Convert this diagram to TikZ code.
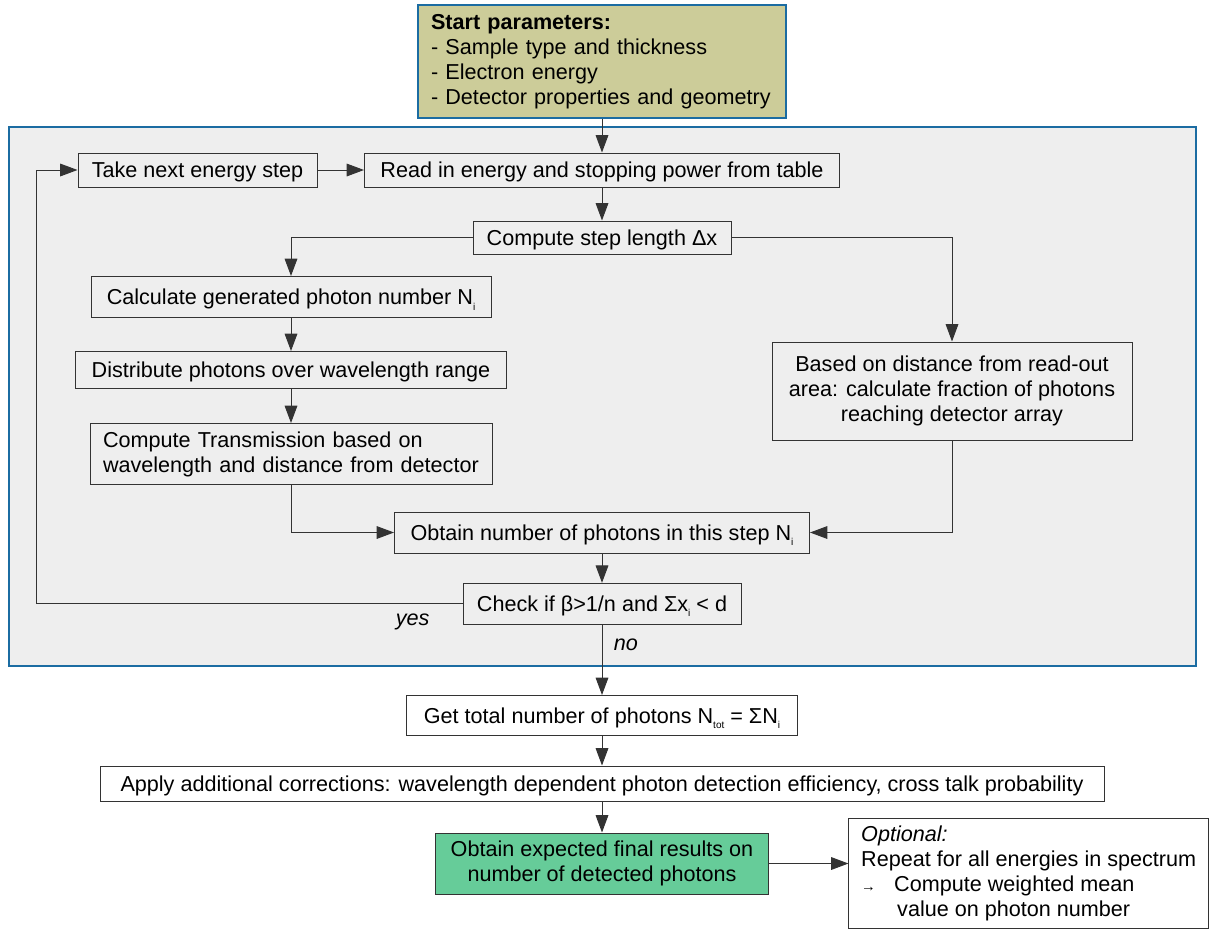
\documentclass[tikz,border=0pt]{standalone}
\usepackage{fontspec}
\setmainfont{Liberation Sans}
\usetikzlibrary{arrows.meta}
\definecolor{panelfill}{HTML}{EEEEEE}
\definecolor{blueline}{HTML}{1B6CA2}
\definecolor{khaki}{HTML}{CCCC99}
\definecolor{mint}{HTML}{66CC99}
\definecolor{boxline}{HTML}{333333}
\newcommand\lsub[1]{\raisebox{-4pt}{\fontsize{7.5}{7.5}\selectfont #1}}
\begin{document}
\begin{tikzpicture}[x=0.75pt,y=-0.75pt,
  font=\fontsize{16.2}{18.75}\selectfont,
  box/.style={draw=boxline, line width=0.75pt, fill=panelfill, inner sep=0pt, align=center},
  outbox/.style={box, fill=white},
  oneline/.style={text height=11.6pt, text depth=0pt},
  arr/.style={draw=boxline, line width=0.75pt, -{Triangle[length=13pt,width=9.5pt]}},
  lbl/.style={font=\fontsize{16.2}{18.75}\selectfont\itshape, inner sep=0pt}
]
\useasboundingbox (0,0) rectangle (1209,929);

% panel
\draw[fill=panelfill, draw=blueline, line width=1.5pt] (9,127) rectangle (1196,666);

% nodes
\node[box, fill=khaki, draw=blueline, line width=1.5pt, minimum width=276pt, minimum height=84.75pt,
      inner xsep=9.75pt, text width=256.5pt, align=left] (start) at (602,61.5)
  {\textbf{Start parameters:}\\- Sample type and thickness\\- Electron energy\\- Detector properties and geometry};

\node[box, oneline, minimum width=179.25pt, minimum height=25.5pt] (take) at (197.5,170) {Take next energy step};
\node[box, oneline, minimum width=356.25pt, minimum height=25.5pt] (read) at (602,170) {Read in energy and stopping power from table};
\node[box, oneline, minimum width=193.5pt, minimum height=24.75pt] (compute) at (602,237.5) {Compute step length Δx};
\node[box, oneline, minimum width=300pt, minimum height=30.75pt] (calc) at (291,297) {Calculate generated photon number N\lsub{i}};
\node[box, oneline, minimum width=323.25pt, minimum height=27.75pt] (distr) at (291,370) {Distribute photons over wavelength range};
\node[box, minimum width=301.5pt, minimum height=45.75pt, inner xsep=9.75pt, text width=282pt, align=left] (trans) at (291,454)
  {Compute Transmission based on\\wavelength and distance from detector};
\node[box, minimum width=270pt, minimum height=73.5pt] (based) at (952,391)
  {Based on distance from read-out\\area: calculate fraction of photons\\reaching detector array};
\node[box, oneline, minimum width=311.25pt, minimum height=30.75pt] (obtain) at (602,532.5) {Obtain number of photons in this step N\lsub{i}};
\node[box, oneline, minimum width=208.5pt, minimum height=30.75pt] (check) at (602,603.8) {Check if β>1/n and Σx\lsub{i} < d};

\node[outbox, oneline, minimum width=293.25pt, minimum height=30pt] (get) at (602,715.5) {Get total number of photons N\lsub{tot} = ΣN\lsub{i}};
\node[outbox, oneline, minimum width=753pt, minimum height=26.25pt] (apply) at (602,783.5)
  {Apply additional corrections: wavelength dependent photon detection efficiency, cross talk probability};
\node[box, fill=mint, minimum width=249.75pt, minimum height=45.75pt] (green) at (602,863.5)
  {Obtain expected final results on\\number of detected photons};
\node[outbox, minimum width=269.6pt, minimum height=82.5pt, align=left] (opt) at (1028.7,873)
  {\textit{Optional:}\\Repeat for all energies in spectrum\\\makebox[24.75pt][l]{\fontsize{11}{11}\selectfont →}Compute weighted mean\\\hspace*{27pt}value on photon number};

\coordinate (loopc) at (36,603.8);

% connectors
\draw[arr] (start.south) -- (read.north);
\draw[arr] (take.east) -- (read.west);
\draw[arr] (check.west) -- node[lbl, pos=0.117, yshift=-13.5pt] {yes} (loopc) |- (take.west);
\draw[arr] (read.south) -- (compute.north);
\draw[arr] (compute.west) -| (calc.north);
\draw[arr] (compute.east) -| (based.north);
\draw[arr] (calc.south) -- (distr.north);
\draw[arr] (distr.south) -- (trans.north);
\draw[arr] (trans.south) |- (obtain.west);
\draw[arr] (based.south) |- (obtain.east);
\draw[arr] (obtain.south) -- (check.north);
\draw[arr] (check.south) -- node[lbl, pos=0.28, anchor=west, xshift=8.5pt] {no} (get.north);
\draw[arr] (get.south) -- (apply.north);
\draw[arr] (apply.south) -- (green.north);
\draw[arr] (green.east) -- (green.east -| opt.west);
\end{tikzpicture}
\end{document}
